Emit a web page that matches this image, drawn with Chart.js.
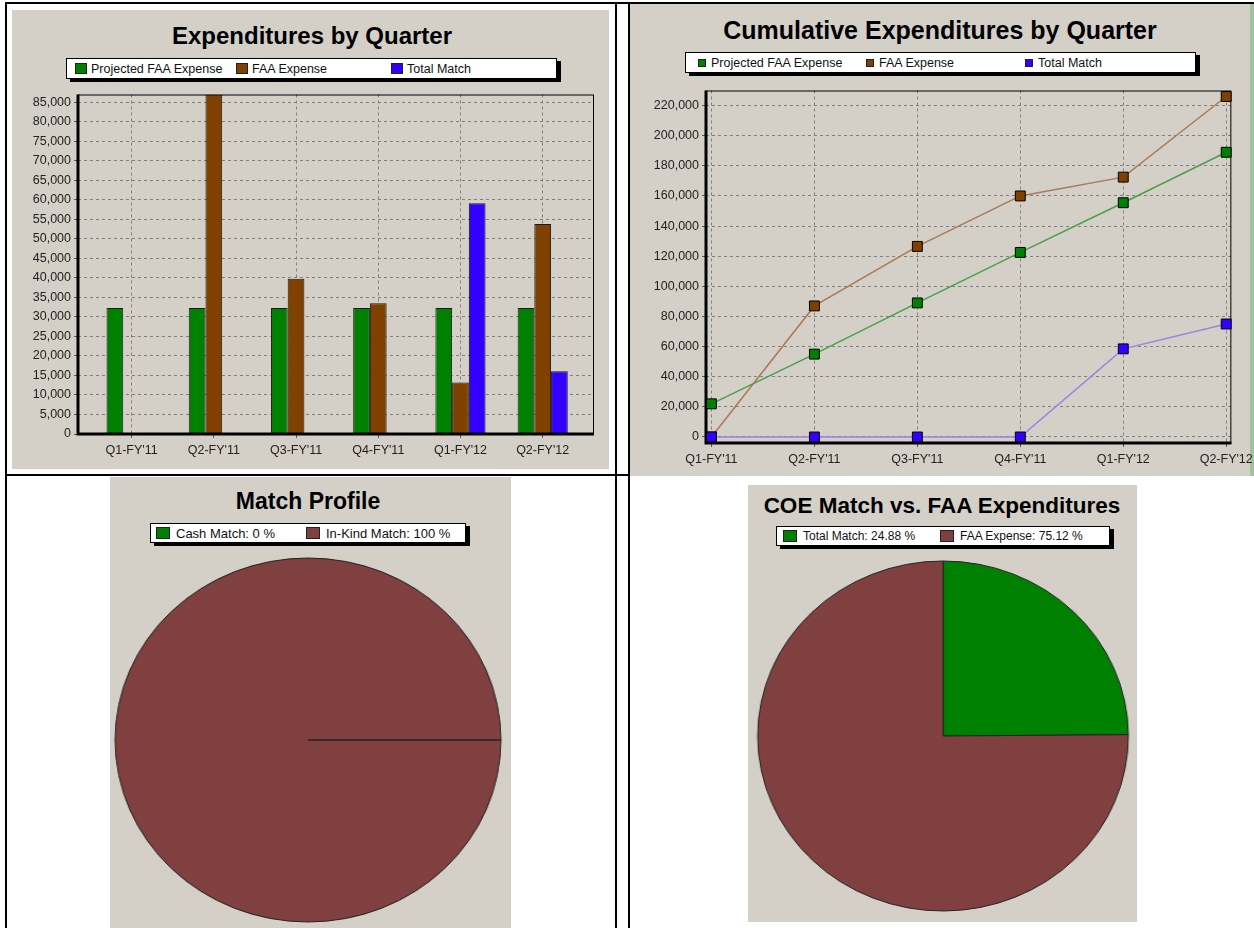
<!DOCTYPE html>
<html>
<head>
<meta charset="utf-8">
<title>Expenditures by Quarter</title>
<script src="https://cdn.jsdelivr.net/npm/chart.js@4.4.1/dist/chart.umd.min.js"></script>
<style>
  html, body { margin: 0; padding: 0; }
  body { width: 1254px; height: 928px; position: relative; overflow: hidden; background: #fff;
         font-family: "Liberation Sans", Arial, sans-serif; }
  .ln { position: absolute; background: #000; }
  .bg { position: absolute; background: #d4d0c8; }
  .ttl { position: absolute; font-weight: bold; color: #000; white-space: nowrap; transform: translateX(-50%); }
  .lg { position: absolute; background: #fff; border: 1px solid #000; box-sizing: border-box; box-shadow: 4px 3px 0 #000; }
  .it { position: absolute; top: 0; bottom: 0; display: flex; align-items: center; white-space: nowrap; color: #111; }
  .sw { display: inline-block; box-sizing: border-box; border: 1px solid #222; }
  canvas { position: absolute; }
</style>
</head>
<body>
<!-- table borders -->
<div class="ln" style="left:5px;top:2px;width:1249px;height:2px"></div>
<div class="ln" style="left:5px;top:2px;width:2px;height:926px"></div>
<div class="ln" style="left:615px;top:2px;width:2px;height:926px"></div>
<div class="ln" style="left:628px;top:2px;width:2px;height:926px"></div>
<div class="ln" style="left:5px;top:474px;width:1249px;height:2px"></div>

<!-- panel backgrounds -->
<div class="bg" style="left:12px;top:10px;width:597px;height:459px"></div>
<div class="bg" style="left:630px;top:4px;width:624px;height:472px"></div>
<div style="position:absolute;left:1250px;top:4px;width:4px;height:472px;background:#9ec49e"></div>
<div class="bg" style="left:110px;top:477px;width:401px;height:451px"></div>
<div class="bg" style="left:748px;top:485px;width:389px;height:437px"></div>

<!-- titles -->
<div class="ttl" style="left:312px;top:24px;font-size:24px;line-height:24px">Expenditures by Quarter</div>
<div class="ttl" style="left:940px;top:18px;font-size:25px;line-height:25px">Cumulative Expenditures by Quarter</div>
<div class="ttl" style="left:308px;top:490px;font-size:23px;line-height:23px">Match Profile</div>
<div class="ttl" style="left:942px;top:495px;font-size:22.5px;line-height:22.5px">COE Match vs. FAA Expenditures</div>

<!-- legends -->
<div class="lg" id="lg1" style="left:66px;top:58px;width:491px;height:21px;font-size:12.5px"></div>
<div class="lg" id="lg2" style="left:685px;top:52px;width:511px;height:21px;font-size:12.5px"></div>
<div class="lg" id="lg3" style="left:150px;top:523px;width:316px;height:20px;font-size:13px"></div>
<div class="lg" id="lg4" style="left:776px;top:526px;width:334px;height:20px;font-size:12px"></div>

<canvas id="c1" width="597" height="385" style="left:12px;top:84px"></canvas>
<canvas id="c2" width="628" height="396" style="left:630px;top:80px"></canvas>
<canvas id="c3" width="420" height="380" style="left:98px;top:550px;transform:scaleX(1.06)"></canvas>
<canvas id="c4" width="400" height="370" style="left:743px;top:551px;transform:scaleX(1.059)"></canvas>

<script>
const quarters = ["Q1-FY'11", "Q2-FY'11", "Q3-FY'11", "Q4-FY'11", "Q1-FY'12", "Q2-FY'12"];
const seriesNames = ['Projected FAA Expense', 'FAA Expense', 'Total Match'];
const seriesColors = ['#008000', '#804000', '#3300ff'];
const lineColors = ['#4a9f4a', '#a87a56', '#9a82e6'];

// amounts per quarter (bar chart)
const projectedQtr = [32300, 32300, 32300, 32300, 32300, 32300];
const faaQtr = [0, 87000, 39800, 33500, 13200, 53800];
const matchQtr = [0, 0, 0, 0, 59100, 16100];

// running totals (line chart)
const projectedCum = [22000, 55000, 89000, 122500, 155500, 189000];
const faaCum = [0, 87000, 126500, 160000, 172500, 226000];
const matchCum = [0, 0, 0, 0, 58500, 75000];

const barTicks = [0, 5000, 10000, 15000, 20000, 25000, 30000, 35000, 40000, 45000,
                  50000, 55000, 60000, 65000, 70000, 75000, 80000, 85000];
const cumTicks = [0, 20000, 40000, 60000, 80000, 100000, 120000, 140000, 160000, 180000, 200000, 220000];

// pies (percent)
const matchNames = ['Cash Match', 'In-Kind Match'];
const matchPct = [0, 100];
const coeNames = ['Total Match', 'FAA Expense'];
const coePct = [24.88, 75.12];
const pieColors = ['#008000', '#804040'];

// --- legends ---
function legend(id, names, colors, lefts, sw, gap, pct) {
  const box = document.getElementById(id);
  names.forEach((n, i) => {
    const it = document.createElement('div');
    it.className = 'it';
    it.style.left = lefts[i] + 'px';
    const s = document.createElement('span');
    s.className = 'sw';
    s.style.width = sw[0] + 'px';
    s.style.height = sw[1] + 'px';
    s.style.marginRight = gap + 'px';
    s.style.background = colors[i];
    it.appendChild(s);
    it.appendChild(document.createTextNode(pct ? n + ': ' + pct[i] + ' %' : n));
    box.appendChild(it);
  });
}
legend('lg1', seriesNames, seriesColors, [8, 169, 324], [12, 11], 4);
legend('lg2', seriesNames, seriesColors, [12, 180, 339], [8, 8], 5);
legend('lg3', matchNames, pieColors, [5, 155], [14, 12], 6, matchPct);
legend('lg4', coeNames, pieColors, [6, 163], [14, 12], 6, coePct);

// --- charts ---
Chart.defaults.font.family = '"Liberation Sans", Arial, sans-serif';
Chart.defaults.font.size = 12.5;
Chart.defaults.color = '#222';
Chart.defaults.animation = false;

const gridOpts = { color: '#808080', lineWidth: 1, tickLength: 4, tickColor: '#555', offset: false };
const borderOpts = { display: false, dash: [3, 3] };
const toXY = arr => arr.map((v, i) => ({ x: i, y: v }));

function framePlugin(after) {
  const draw = chart => {
    const a = chart.chartArea, ctx = chart.ctx;
    ctx.save();
    ctx.strokeStyle = '#000';
    ctx.lineWidth = 1;
    ctx.strokeRect(a.left + 0.5, a.top + 0.5, a.right - a.left - 1, a.bottom - a.top);
    ctx.lineWidth = 3;
    ctx.beginPath();
    ctx.moveTo(a.left, a.top);
    ctx.lineTo(a.left, a.bottom);
    ctx.lineTo(a.right, a.bottom);
    ctx.stroke();
    ctx.restore();
  };
  return after ? { id: 'frameA', afterDatasetsDraw: draw } : { id: 'frameB', beforeDatasetsDraw: draw };
}

new Chart(document.getElementById('c1'), {
  type: 'bar',
  data: {
    datasets: [projectedQtr, faaQtr, matchQtr].map((d, i) => ({
      label: seriesNames[i], data: toXY(d), backgroundColor: seriesColors[i],
      borderColor: '#1a1a1a', borderWidth: 1
    }))
  },
  options: {
    responsive: false,
    datasets: { bar: { categoryPercentage: 0.61, barPercentage: 1 } },
    layout: { padding: { top: 8, right: 15, left: 0, bottom: 0 } },
    plugins: { legend: { display: false }, tooltip: { enabled: false } },
    scales: {
      x: {
        type: 'linear', min: -0.652, max: 5.624, offset: false,
        grid: gridOpts, border: borderOpts,
        afterBuildTicks: s => { s.ticks = quarters.map((q, i) => ({ value: i })); },
        afterFit: s => { s.height = 35; },
        ticks: { callback: v => quarters[v], padding: 5, maxRotation: 0, autoSkip: false }
      },
      y: {
        min: 0, max: 87000,
        grid: gridOpts, border: borderOpts,
        afterBuildTicks: s => { s.ticks = barTicks.map(v => ({ value: v })); },
        afterFit: s => { s.width = 66; },
        ticks: { callback: v => v.toLocaleString('en-US'), padding: 3 }
      }
    }
  },
  plugins: [framePlugin(true)]
});

new Chart(document.getElementById('c2'), {
  type: 'line',
  data: {
    datasets: [projectedCum, faaCum, matchCum].map((d, i) => ({
      label: seriesNames[i], data: toXY(d),
      borderColor: lineColors[i], borderWidth: 1.5,
      pointStyle: 'rect', pointRadius: 7, pointBackgroundColor: seriesColors[i],
      pointBorderColor: '#000', pointBorderWidth: 1,
      clip: false, order: 2 - i
    }))
  },
  options: {
    responsive: false,
    layout: { padding: { top: 9, right: 25, left: 0, bottom: 0 } },
    plugins: { legend: { display: false }, tooltip: { enabled: false } },
    scales: {
      x: {
        type: 'linear', min: -0.053, max: 5.05, offset: false,
        grid: gridOpts, border: borderOpts,
        afterBuildTicks: s => { s.ticks = quarters.map((q, i) => ({ value: i })); },
        afterFit: s => { s.height = 33; },
        ticks: { callback: v => quarters[v], padding: 5, maxRotation: 0, autoSkip: false }
      },
      y: {
        min: -4000, max: 230000,
        grid: gridOpts, border: borderOpts,
        afterBuildTicks: s => { s.ticks = cumTicks.map(v => ({ value: v })); },
        afterFit: s => { s.width = 76; },
        ticks: { callback: v => v.toLocaleString('en-US'), padding: 3 }
      }
    }
  },
  plugins: [framePlugin(false)]
});

function pie(id, names, values, rotation, radius) {
  new Chart(document.getElementById(id), {
    type: 'pie',
    data: {
      labels: names,
      datasets: [{ data: values, backgroundColor: pieColors, borderColor: '#222', borderWidth: 1 }]
    },
    options: {
      responsive: false,
      rotation: rotation,
      radius: radius,
      plugins: { legend: { display: false }, tooltip: { enabled: false } }
    }
  });
}
pie('c3', matchNames, matchPct, 90, 182);
pie('c4', coeNames, coePct, 0, 175);
</script>
</body>
</html>
